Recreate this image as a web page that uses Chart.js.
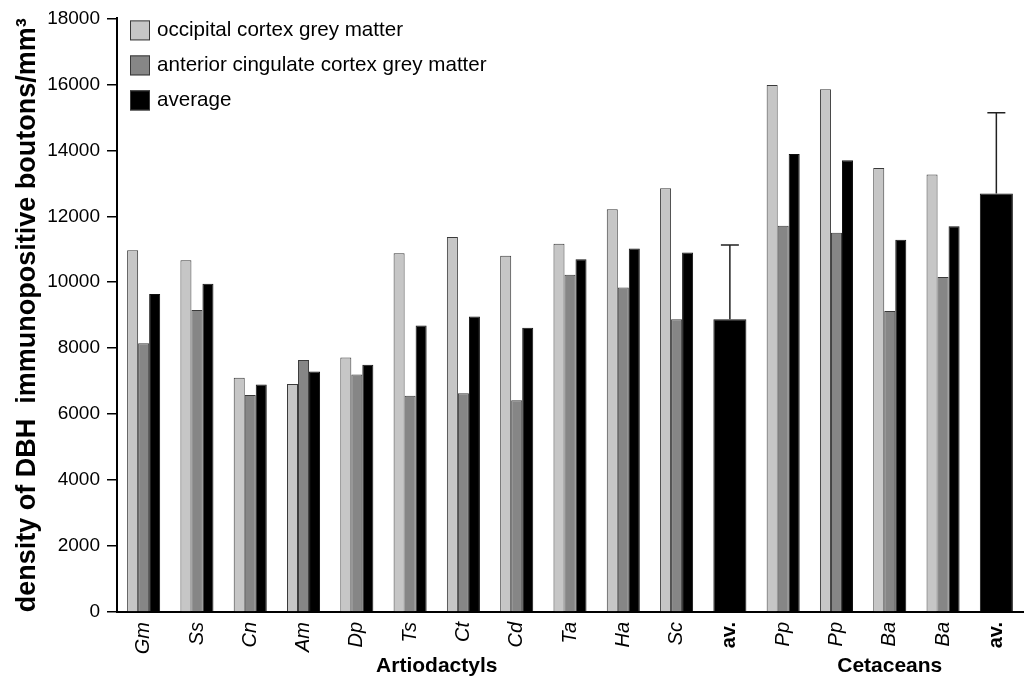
<!DOCTYPE html>
<html>
<head>
<meta charset="utf-8">
<script src="https://cdn.jsdelivr.net/npm/chart.js@4.4.1/dist/chart.umd.min.js"></script>
<style>
  html, body { margin: 0; padding: 0; background: #fff; }
  #wrap { width: 1027px; height: 683px; position: relative; }
</style>
</head>
<body>
<div id="wrap"><canvas id="chart"></canvas></div>
<script>
//================================ DATA

const categories = ['Gm', 'Ss', 'Cn', 'Am', 'Dp', 'Ts', 'Ct', 'Cd', 'Ta', 'Ha', 'Sc', 'av.', 'Pp', 'Pp', 'Ba', 'Ba', 'av.'];
const occipital = [10970, 10670, 7100, 6910, 7720, 10880, 11370, 10800, 11170, 12210, 12850, null, 15980, 15850, 13460, 13270, null];
const cingulate = [8150, 9160, 6580, 7640, 7200, 6560, 6630, 6420, 10230, 9840, 8880, null, 11710, 11500, 9130, 10160, null];
const average = [9640, 9950, 6900, 7290, 7500, 8690, 8960, 8620, 10700, 11020, 10900, null, 13890, 13700, 11290, 11700, null];
const groupAverage = [null, null, null, null, null, null, null, null, null, null, null, 8880, null, null, null, null, 12690];
const groupErrorTop = [null, null, null, null, null, null, null, null, null, null, null, 11130, null, null, null, null, 15140];
const yTicks = [0, 2000, 4000, 6000, 8000, 10000, 12000, 14000, 16000, 18000];
const groups = [
  { label: 'Artiodactyls', from: 0, to: 11 },
  { label: 'Cetaceans', from: 12, to: 16 },
];
const legendItems = ['occipital cortex grey matter', 'anterior cingulate cortex grey matter', 'average'];

//================================ STYLE

const FONT = '"Liberation Sans", Arial, Helvetica, sans-serif';
const lightGrey = '#c6c6c6';
const darkGrey = '#868686';
const black = '#000000';
const edge = '#3a3a3a';

//================================ PLUGINS

const errorBars = {
  id: 'errorBars',
  afterDatasetsDraw (chart) {
    const ctx = chart.ctx;
    const x = chart.scales.x;
    const y = chart.scales.y;
    ctx.save();
    ctx.strokeStyle = '#222';
    ctx.lineWidth = 1.5;
    for (let i = 0; i < groupErrorTop.length; i++) {
      if (groupErrorTop[i] === null) continue;
      const cx = x.getPixelForValue(i);
      const y0 = y.getPixelForValue(groupAverage[i]);
      const y1 = y.getPixelForValue(groupErrorTop[i]);
      ctx.beginPath();
      ctx.moveTo(cx, y0);
      ctx.lineTo(cx, y1);
      ctx.moveTo(cx - 9, y1);
      ctx.lineTo(cx + 9, y1);
      ctx.stroke();
    }
    ctx.restore();
  },
};

const groupLabels = {
  id: 'groupLabels',
  afterDraw (chart) {
    const ctx = chart.ctx;
    const x = chart.scales.x;
    ctx.save();
    ctx.fillStyle = '#000';
    ctx.font = 'bold 21px ' + FONT;
    ctx.textAlign = 'center';
    ctx.textBaseline = 'middle';
    for (let i = 0; i < groups.length; i++) {
      const g = groups[i];
      const cx = (x.getPixelForValue(g.from) + x.getPixelForValue(g.to)) / 2;
      ctx.fillText(g.label, cx, 666);
    }
    ctx.restore();
  },
};

const boxLegend = {
  id: 'boxLegend',
  afterDraw (chart) {
    const ctx = chart.ctx;
    const area = chart.chartArea;
    const fills = [lightGrey, darkGrey, black];
    ctx.save();
    ctx.font = '20.6px ' + FONT;
    ctx.textBaseline = 'middle';
    ctx.textAlign = 'left';
    for (let i = 0; i < legendItems.length; i++) {
      const bx = area.left + 13;
      const by = area.top + 2 + i * 35;
      ctx.fillStyle = fills[i];
      ctx.fillRect(bx, by, 20, 20);
      ctx.strokeStyle = edge;
      ctx.lineWidth = 1;
      ctx.strokeRect(bx + 0.5, by + 0.5, 19, 19);
      ctx.fillStyle = '#000';
      ctx.fillText(legendItems[i], bx + 27, by + 10);
    }
    ctx.restore();
  },
};

//================================ CHART

const barBase = {
  borderColor: edge,
  borderWidth: 1,
  barPercentage: 1,
  categoryPercentage: 0.62,
};

new Chart(document.getElementById('chart'), {
  type: 'bar',
  data: {
    labels: categories,
    datasets: [
      Object.assign({ label: legendItems[0], data: occipital, backgroundColor: lightGrey }, barBase),
      Object.assign({ label: legendItems[1], data: cingulate, backgroundColor: darkGrey }, barBase),
      Object.assign({}, barBase, { label: legendItems[2], data: average, backgroundColor: black, borderColor: '#111' }),
      Object.assign({}, barBase, { label: 'group average', data: groupAverage, backgroundColor: black, borderColor: '#111', grouped: false }),
    ],
  },
  options: {
    responsive: true,
    maintainAspectRatio: false,
    animation: false,
    layout: {
      padding: { top: 17, right: 4, bottom: 0, left: 0 },
    },
    plugins: {
      legend: { display: false },
      tooltip: { enabled: false },
    },
    scales: {
      x: {
        grid: { display: false },
        border: { display: true, color: '#000', width: 2 },
        ticks: {
          color: '#000',
          autoSkip: false,
          minRotation: 90,
          maxRotation: 90,
          padding: 2,
          font: function (c) {
            const lab = categories[c.index];
            if (lab === 'av.') {
              return { family: FONT, size: 20, weight: 'bold' };
            }
            return { family: FONT, size: 20, style: 'italic' };
          },
        },
        afterFit: function (scale) { scale.height = 71; },
      },
      y: {
        min: 0,
        max: 18000,
        afterBuildTicks: function (scale) {
          const t = [];
          for (let i = 0; i < yTicks.length; i++) t.push({ value: yTicks[i] });
          scale.ticks = t;
        },
        grid: { drawOnChartArea: false, drawTicks: true, tickLength: 10, color: '#000', lineWidth: 1.5 },
        border: { display: true, color: '#000', width: 2 },
        ticks: {
          color: '#000',
          padding: 7,
          font: { family: FONT, size: 19 },
          callback: function (v) { return String(v); },
        },
        title: {
          display: true,
          text: 'density of DBH  immunopositive boutons/mm³',
          color: '#000',
          font: { family: FONT, size: 27, weight: 'bold' },
          padding: { top: 11, bottom: 0 },
        },
        afterFit: function (scale) { scale.width = 117; },
      },
    },
  },
  plugins: [errorBars, groupLabels, boxLegend],
});
</script>
</body>
</html>
